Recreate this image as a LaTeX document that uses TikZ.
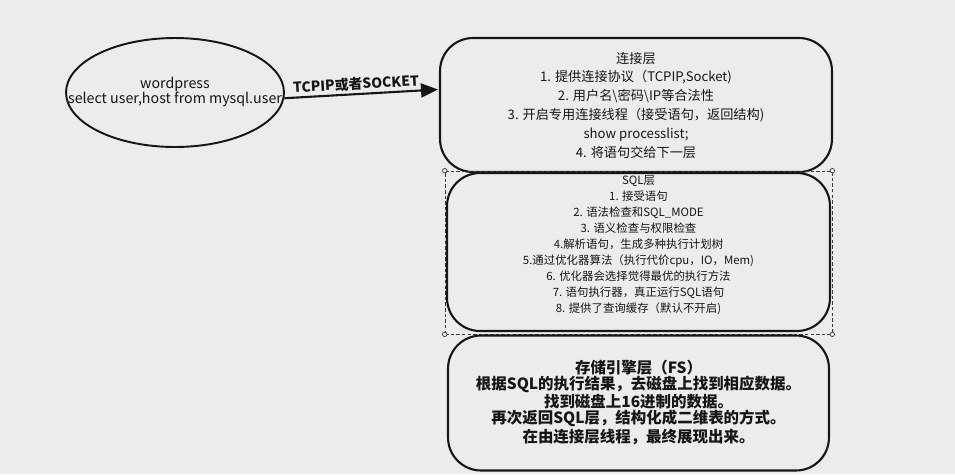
\documentclass[tikz,border=0pt]{standalone}
\usepackage{fontspec}
\setmainfont{Noto Sans CJK SC}
\usetikzlibrary{arrows.meta,positioning,shapes.geometric}
\definecolor{fondo}{RGB}{236,236,236}
\definecolor{trazo}{RGB}{22,22,22}
\definecolor{seleccion}{RGB}{60,60,60}
\tikzset{
  cliente/.style={
    ellipse,
    draw=trazo,
    line width=1.1pt,
    minimum width=4.36cm,
    minimum height=2.18cm,
    inner sep=0pt
  },
  capa/.style={
    rounded corners=0.66cm,
    draw=trazo,
    line width=1.2pt,
    fill=fondo,
    inner sep=0pt
  },
  texto/.style={
    align=center,
    inner sep=0pt,
    text=trazo
  },
  marco/.style={
    draw=seleccion,
    line width=0.4pt,
    dash pattern=on 2pt off 1.2pt
  },
  asa/.style={
    circle,
    draw=seleccion,
    line width=0.4pt,
    fill=fondo,
    inner sep=0pt,
    minimum size=0.09cm
  },
  flecha/.style={
    -{Triangle[length=0.34cm,width=0.28cm]},
    line width=1.2pt,
    trazo
  }
}

\begin{document}
\begin{tikzpicture}[x=0.02cm,y=-0.02cm]
\fill[fondo] (0,0) rectangle (955,474);
\node[cliente] (wp) at (175,92.5) {};
\node[texto,font=\fontsize{8.1}{9.1}\selectfont] (wptxt) at (175,92) {wordpress\\select user,host from mysql.user};
\node[capa,minimum width=7.84cm,minimum height=2.68cm] (conexion) at (636,105) {};
\node[texto,font=\fontsize{7.5}{10.8}\selectfont] (conexiontxt) at (636,105.5)
  {连接层\\1. 提供连接协议（TCPIP,Socket)\\2. 用户名\textbackslash 密码\textbackslash IP等合法性\\3. 开启专用连接线程（接受语句，返回结构)\\show processlist;\\4. 将语句交给下一层};
\node[marco,minimum width=7.74cm,minimum height=3.26cm] (sel) at (638.5,252.5) {};
\node[capa,minimum width=7.66cm,minimum height=3.16cm] (sql) at (638.5,252) {};
\node[texto,font=\fontsize{6.5}{9.1}\selectfont] (sqltxt) at (638.5,245.5)
  {SQL层\\1. 接受语句\\2. 语法检查和SQL\_MODE\\3. 语义检查与权限检查\\4.解析语句，生成多种执行计划树\\5.通过优化器算法（执行代价cpu，IO，Mem)\\6. 优化器会选择觉得最优的执行方法\\7. 语句执行器，真正运行SQL语句\\8. 提供了查询缓存（默认不开启)};
\node[capa,minimum width=7.62cm,minimum height=2.7cm] (motor) at (638.5,403) {};
\node[texto,font=\bfseries\fontsize{8.8}{8.96}\selectfont] (motortxt) at (638.5,402.5)
  {存储引擎层（FS）\\根据SQL的执行结果，去磁盘上找到相应数据。\\找到磁盘上16进制的数据。\\再次返回SQL层，结构化成二维表的方式。\\在由连接层线程，最终展现出来。};
\foreach \esq in {north west,north east,south west,south east}
  \node[asa] at (sel.\esq) {};
\coordinate (llegada) at (438,89.5);
\draw[flecha] (wp.-3.5) -- (llegada);
\node[texto,font=\bfseries\fontsize{7.9}{9}\selectfont,rotate=3] (protocolo) at (356,84) {TCPIP或者SOCKET};
\end{tikzpicture}
\end{document}
